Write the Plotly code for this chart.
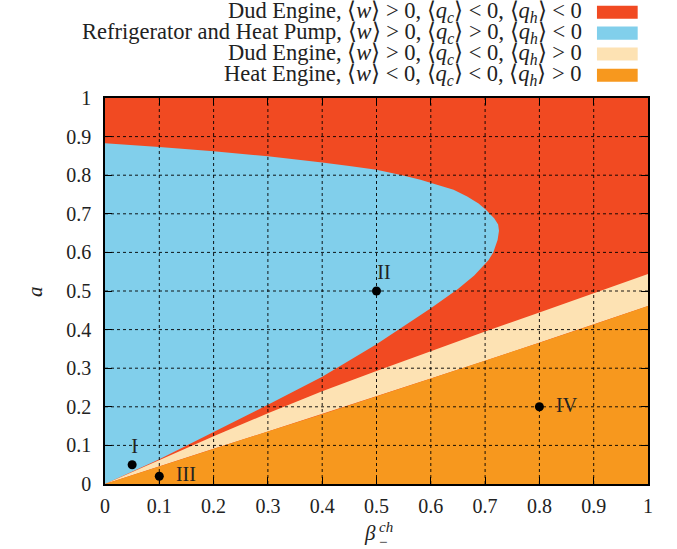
import plotly.graph_objects as go

# ---------------- data ----------------
# Blue region boundary (refrigerator / heat pump): lower branch then upper branch
blue_x = [0.0, 0.1, 0.2, 0.3, 0.4, 0.5, 0.6, 0.65, 0.68, 0.7065, 0.715, 0.723, 0.7256,
          0.724, 0.717, 0.702, 0.688, 0.667, 0.642, 0.605, 0.581, 0.547, 0.5, 0.45, 0.4,
          0.3, 0.2, 0.1, 0.0]
blue_a = [0.0, 0.064, 0.135, 0.205, 0.278, 0.362, 0.455, 0.505, 0.54, 0.58, 0.6, 0.632, 0.656,
          0.672, 0.688, 0.71, 0.727, 0.745, 0.762, 0.779, 0.788, 0.8, 0.814, 0.824, 0.833,
          0.849, 0.862, 0.873, 0.883]

# Line boundaries
line_x = [0.0, 0.1, 0.2, 0.3, 0.4, 0.5, 0.6, 0.7, 0.8, 0.9, 1.0]
peach_top_a = [0.0, 0.063, 0.124, 0.183, 0.240, 0.293, 0.345, 0.395, 0.444, 0.494, 0.544]
orange_top_a = [0.0, 0.046, 0.091, 0.136, 0.181, 0.227, 0.273, 0.319, 0.366, 0.413, 0.461]

# Marked points
pt_x = [0.05, 0.5, 0.1, 0.8]
pt_a = [0.05, 0.5, 0.02, 0.2]
pt_labels = ["&nbsp;I", "&nbsp;&nbsp;&nbsp;II", "&nbsp;&nbsp;III", "&nbsp;&nbsp;IV"]
pt_textpos = ["top center", "top center", "middle right", "middle right"]

# Ticks
tick_vals = [0, 0.1, 0.2, 0.3, 0.4, 0.5, 0.6, 0.7, 0.8, 0.9, 1]
tick_text = ["0", "0.1", "0.2", "0.3", "0.4", "0.5", "0.6", "0.7", "0.8", "0.9", "1"]

# Legend
S = "&nbsp;"
def rel(sym, q, sub=None):
    inner = f"<i>{q}</i>" if sub is None else f"<i>{q}<sub>{sub}</sub></i>"
    return f"⟨{inner}⟩{S}{sym}{S}0"

legend_labels = [
    "Dud Engine, " + rel(">", "w") + ", " + rel("<", "q", "c") + ", " + rel("<", "q", "h"),
    "Refrigerator and Heat Pump, " + rel(">", "w") + ", " + rel(">", "q", "c") + ", " + rel("<", "q", "h"),
    "Dud Engine, " + rel(">", "w") + ", " + rel("<", "q", "c") + ", " + rel(">", "q", "h"),
    "Heat Engine, " + rel("<", "w") + ", " + rel("<", "q", "c") + ", " + rel(">", "q", "h"),
]

RED = "#F14A22"
BLUE = "#81CFEB"
PEACH = "#FDE2B3"
ORANGE = "#F7981E"
legend_colors = [RED, BLUE, PEACH, ORANGE]

FONT = "Liberation Serif"
FS = 20
LFS = 22.5
TXT = "#222222"

fig = go.Figure()

# Blue region
fig.add_trace(go.Scatter(x=blue_x, y=blue_a, mode="lines", fill="toself",
                         fillcolor=BLUE, line=dict(width=0, color=BLUE),
                         hoverinfo="skip", showlegend=False))
# Peach band (between the two lines)
fig.add_trace(go.Scatter(x=line_x + line_x[::-1], y=peach_top_a + orange_top_a[::-1],
                         mode="lines", fill="toself", fillcolor=PEACH,
                         line=dict(width=0, color=PEACH), hoverinfo="skip", showlegend=False))
# Orange region
fig.add_trace(go.Scatter(x=line_x, y=orange_top_a, mode="lines", fill="tozeroy",
                         fillcolor=ORANGE, line=dict(width=0, color=ORANGE),
                         hoverinfo="skip", showlegend=False))

# Dotted grid lines drawn over the fills
inner = tick_vals[1:-1]
gx, gy = [], []
for v in inner:
    gx += [v, v, None]
    gy += [tick_vals[0], tick_vals[-1], None]
for v in inner:
    gx += [tick_vals[0], tick_vals[-1], None]
    gy += [v, v, None]
fig.add_trace(go.Scatter(x=gx, y=gy, mode="lines",
                         line=dict(color="rgba(0,0,0,0.9)", width=1, dash="dot"),
                         hoverinfo="skip", showlegend=False))

# Points
fig.add_trace(go.Scatter(x=pt_x, y=pt_a, mode="markers+text", text=pt_labels,
                         textposition=pt_textpos,
                         textfont=dict(family=FONT, size=FS, color=TXT),
                         marker=dict(color="black", size=9),
                         hoverinfo="skip", showlegend=False))

axis_common = dict(range=[0, 1], tickvals=tick_vals, ticktext=tick_text,
                   showgrid=False, zeroline=False, showline=True, linecolor="black",
                   linewidth=1.5, mirror="ticks", ticks="inside", ticklen=7,
                   tickcolor="black", tickwidth=1.2, layer="above traces",
                   tickfont=dict(family=FONT, size=FS, color=TXT))

fig.update_layout(
    width=677, height=549,
    margin=dict(l=105, r=29, t=98, b=65),
    paper_bgcolor="white", plot_bgcolor=RED,
    xaxis=dict(**axis_common, ticklabelstandoff=3),
    yaxis=dict(**axis_common, ticklabelstandoff=8),
    showlegend=False,
)

annotations = []
# Legend rows
row_y = [1.222, 1.168, 1.114, 1.059]
for lab, col, yy in zip(legend_labels, legend_colors, row_y):
    annotations.append(dict(xref="paper", yref="paper", x=0.882, y=yy, text=lab,
                            showarrow=False, xanchor="right", yanchor="middle",
                            font=dict(family=FONT, size=LFS, color=TXT)))
    fig.add_shape(type="rect", xref="paper", yref="paper",
                  x0=0.906, x1=0.981, y0=yy - 0.017, y1=yy + 0.017,
                  fillcolor=col, line=dict(width=0))

# Axis titles
annotations.append(dict(xref="paper", yref="paper", x=-0.129, y=0.5, text="<i>a</i>",
                        showarrow=False, textangle=-90, xanchor="center", yanchor="middle",
                        font=dict(family=FONT, size=FS + 1, color=TXT)))
annotations.append(dict(xref="paper", yref="paper", x=0.488, y=-0.127, text="<i>β</i>",
                        showarrow=False, xanchor="center", yanchor="middle",
                        font=dict(family=FONT, size=FS + 1, color=TXT)))
annotations.append(dict(xref="paper", yref="paper", x=0.500, y=-0.111, text="<i>ch</i>",
                        showarrow=False, xanchor="left", yanchor="middle",
                        font=dict(family=FONT, size=15, color=TXT)))
annotations.append(dict(xref="paper", yref="paper", x=0.500, y=-0.150, text="−",
                        showarrow=False, xanchor="left", yanchor="middle",
                        font=dict(family=FONT, size=15, color=TXT)))
fig.update_layout(annotations=annotations)

# remove the default page margin so the figure starts at the window's corner
fig.write_html("out.html",
               config={"displayModeBar": False},
               post_script="document.body.style.margin='0';document.body.style.overflow='hidden';")
